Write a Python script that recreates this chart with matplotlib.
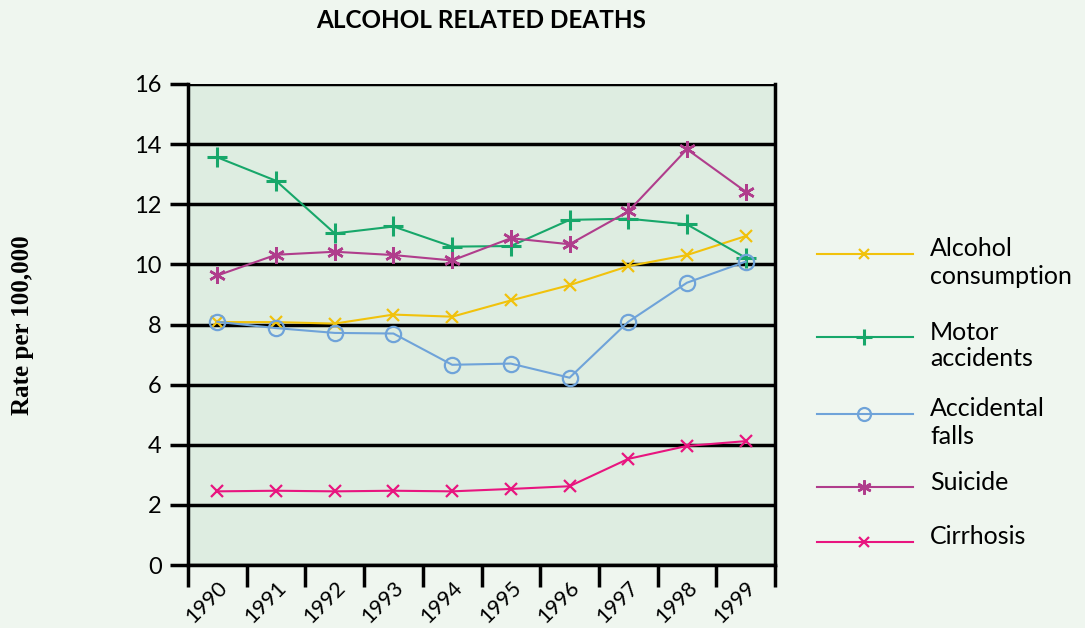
import matplotlib
matplotlib.use("Agg")
import matplotlib.pyplot as plt
from matplotlib.lines import Line2D
from matplotlib.transforms import ScaledTranslation
import numpy as np

years = ["1990", "1991", "1992", "1993", "1994", "1995", "1996", "1997", "1998", "1999"]
alcohol = [8.08, 8.08, 8.03, 8.33, 8.26, 8.8, 9.31, 9.94, 10.31, 10.94]
motor = [13.56, 12.78, 11.03, 11.26, 10.59, 10.61, 11.48, 11.52, 11.33, 10.22]
falls = [8.09, 7.88, 7.72, 7.70, 6.66, 6.70, 6.23, 8.09, 9.39, 10.09]
suicide = [9.63, 10.32, 10.42, 10.31, 10.13, 10.87, 10.67, 11.76, 13.83, 12.42]
cirrhosis = [2.45, 2.47, 2.45, 2.47, 2.45, 2.53, 2.62, 3.53, 3.96, 4.12]
series_names = ["Alcohol\nconsumption", "Motor\naccidents", "Accidental\nfalls", "Suicide", "Cirrhosis"]
yticks = [0, 2, 4, 6, 8, 10, 12, 14, 16]

FONT = "Lato"
W, H = 1085, 628
fig = plt.figure(figsize=(W / 100, H / 100), dpi=100, facecolor="#eff6ef")
ax = fig.add_axes([188 / W, 1 - 565 / H, (775 - 188) / W, (565 - 84) / H])
ax.set_facecolor("#deede1")

styles = [
    dict(color="#f1c20c", marker="x", ms=9, mew=1.6, lw=1.5),
    dict(color="#17a76a", marker="+", ms=14, mew=2.2, lw=1.5),
    dict(color="#6fa3d9", marker="o", ms=11, mew=1.6, lw=1.5, mfc="none"),
    dict(color="#b03d8c", marker=(6, 2, 0), ms=12, mew=1.8, lw=1.5),
    dict(color="#e8157f", marker="x", ms=9, mew=1.6, lw=1.5),
]
data = [alcohol, motor, falls, suicide, cirrhosis]
x = np.arange(len(years))
for vals, st in zip(data, styles):
    ax.plot(x, vals, zorder=3, **st)

ax.set_xlim(-0.5, len(years) - 0.5)
ax.set_ylim(0, 16)
ax.set_yticks(yticks)
ax.set_yticklabels([str(v) for v in yticks], fontsize=17, family=FONT)
ax.yaxis.grid(True, color="black", lw=2.5, zorder=1)
ax.set_axisbelow(True)
ax.tick_params(axis="y", length=13, width=2.5, pad=6, color="black")

ax.set_xticks(x)
ax.set_xticklabels(years, rotation=45, ha="right", va="top", rotation_mode="anchor",
                   fontsize=15.5, family=FONT)
shift = ScaledTranslation(5 / 100, 0, fig.dpi_scale_trans)
for lbl in ax.get_xticklabels():
    lbl.set_transform(lbl.get_transform() + shift)
ax.tick_params(axis="x", which="major", length=0, pad=9)
ax.set_xticks(np.arange(-0.5, len(years), 1.0), minor=True)
ax.tick_params(axis="x", which="minor", length=16, width=2.5, color="black")

for side in ["left", "right", "bottom"]:
    ax.spines[side].set_linewidth(2.5)
    ax.spines[side].set_color("black")
ax.spines["top"].set_visible(False)

fig.text(481 / W, 1 - 20 / H, "ALCOHOL RELATED DEATHS", ha="center", va="center",
         fontsize=17.5, fontweight="bold", family=FONT)
fig.text(22 / W, 1 - 325 / H, "Rate per 100,000", rotation=90, ha="center", va="center",
         fontsize=18, fontweight="bold", family="Liberation Serif")

# Legend
leg_y = [254, 337, 414, 487, 542]
for yy, st, name in zip(leg_y, styles, series_names):
    fy = 1 - yy / H
    line = Line2D([817 / W, 913 / W], [fy, fy], transform=fig.transFigure, color=st["color"], lw=1.5)
    fig.add_artist(line)
    mk = Line2D([864 / W], [fy], transform=fig.transFigure, color=st["color"], marker=st["marker"],
                ms=st["ms"] * 0.85, mew=st["mew"], mfc=st.get("mfc", st["color"]), lw=0)
    fig.add_artist(mk)
    lines = name.split("\n")
    for i, t in enumerate(lines):
        fig.text(930 / W, 1 - (yy - 5 + 27 * i) / H, t, ha="left", va="center",
                 fontsize=18, family=FONT)

fig.savefig("out.png", dpi=100, facecolor=fig.get_facecolor())
